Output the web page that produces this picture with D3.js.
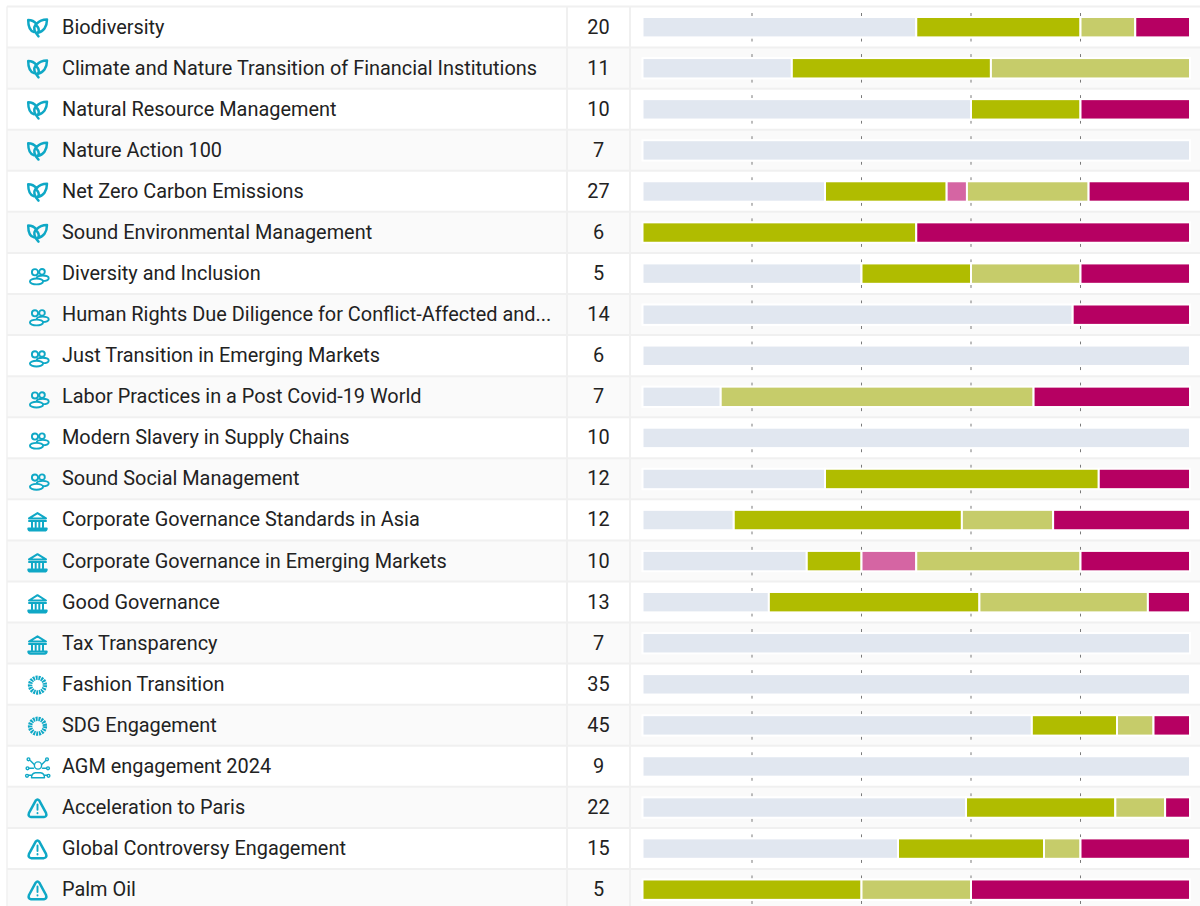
<!DOCTYPE html>
<html><head><meta charset="utf-8">
<script src="https://cdn.jsdelivr.net/npm/d3@7/dist/d3.min.js"></script>
<style>html,body{margin:0;padding:0;background:#fff;overflow:hidden}svg{display:block}text{font-family:Roboto,sans-serif;fill:#222}</style>
</head><body><svg id="c" width="1200" height="906"></svg>
<script>
const themes = ["Biodiversity","Climate and Nature Transition of Financial Institutions","Natural Resource Management","Nature Action 100","Net Zero Carbon Emissions","Sound Environmental Management","Diversity and Inclusion","Human Rights Due Diligence for Conflict-Affected and...","Just Transition in Emerging Markets","Labor Practices in a Post Covid-19 World","Modern Slavery in Supply Chains","Sound Social Management","Corporate Governance Standards in Asia","Corporate Governance in Emerging Markets","Good Governance","Tax Transparency","Fashion Transition","SDG Engagement","AGM engagement 2024","Acceleration to Paris","Global Controversy Engagement","Palm Oil"];
const icons = ["leaf","leaf","leaf","leaf","leaf","leaf","people","people","people","people","people","people","bank","bank","bank","bank","sdg","sdg","agm","alert","alert","alert"];
const counts = [20,11,10,7,27,6,5,14,6,7,10,12,12,10,13,7,35,45,9,22,15,5];
const statusNames = ["grey","green","pink","lightgreen","magenta"];
const grey =       [10,3,6,7,9,0,2,11,6,1,10,4,2,3,3,7,35,32,9,13,7,0];
const green =      [6,4,2,0,6,3,1,0,0,0,0,6,5,1,5,0,0,7,0,6,4,2];
const pink =       [0,0,0,0,1,0,0,0,0,0,0,0,0,1,0,0,0,0,0,0,0,0];
const lightgreen = [2,4,0,0,6,0,1,0,0,4,0,0,2,3,4,0,0,3,0,2,1,1];
const magenta =    [2,0,2,0,5,3,1,3,0,2,0,2,3,2,1,0,0,3,0,1,3,2];
const statusColors = ["#e1e7f0","#b0bc00","#d565a3","#c6cc6a","#b60062"];
const tickValues = [0.2,0.4,0.6,0.8];

const rows = themes.map((t,i)=>({theme:t,icon:icons[i],count:counts[i],grey:grey[i],green:green[i],pink:pink[i],lightgreen:lightgreen[i],magenta:magenta[i]}));
const svg = d3.select("#c");
const rowH = 41.07, startY = 6.5;
const y = d3.scaleBand().domain(themes).range([startY, startY+rowH*themes.length]);
const x = d3.scaleLinear().domain([0,1]).range([642.5,1190]);
const stacked = d3.stack().keys(statusNames).offset(d3.stackOffsetExpand)(rows);
const teal = "#0fa8c6";

const g = svg.selectAll("g.row").data(rows).join("g").attr("class","row").attr("transform",d=>`translate(0,${y(d.theme)})`);
g.append("rect").attr("x",7).attr("width",1200).attr("height",rowH).attr("fill",(d,i)=>i%2?"#fafafa":"#fff");
g.append("line").attr("x1",7).attr("x2",1200).attr("y1",0).attr("y2",0).attr("stroke","#f0f0f0").attr("stroke-width",2);
[7,567,630].forEach(cx=>svg.append("line").attr("x1",cx).attr("x2",cx).attr("y1",startY).attr("y2",906).attr("stroke","#f0f0f0").attr("stroke-width",cx===7?1.5:2));

g.append("text").text(d=>d.theme).attr("x",62).attr("y",rowH/2-0.4).attr("dy","0.35em").attr("font-size",19.9);
g.append("text").text(d=>d.count).attr("x",598.5).attr("y",rowH/2-0.4).attr("dy","0.35em").attr("text-anchor","middle").attr("font-size",19.9);

[7.5,33].forEach(off=>{
  g.selectAll(null).data(tickValues).join("rect").attr("x",t=>x(t)-0.5).attr("y",off-1).attr("width",1).attr("height",3).attr("fill","#7a7a7a");
});

svg.selectAll("g.series").data(stacked).join("g").attr("class","series").attr("fill",(s,i)=>statusColors[i])
 .selectAll("rect").data(s=>s.filter(d=>d[1]>d[0])).join("rect")
 .attr("x",d=>x(d[0])).attr("width",d=>x(d[1])-x(d[0]))
 .attr("y",d=>y(d.data.theme)+10.5).attr("height",20.4)
 .attr("stroke","#fff").attr("stroke-width",2);

const ic = g.append("g").attr("transform",`translate(37.5,${rowH/2})`).attr("fill","none").attr("stroke",teal).attr("stroke-width",2.5).attr("stroke-linecap","round").attr("stroke-linejoin","round");
ic.filter(d=>d.icon==="leaf").each(function(){
  const s=d3.select(this).append("g").attr("transform","translate(0,0.5)");
  s.append("path").attr("d","M-3.5,4.5 C-7.5,3.5 -9.3,-1.5 -9.3,-7.5 C-5.5,-7.5 -3,-6 -1,-3.5 C2,-7 6,-8 9.5,-8 C9.5,-1 6,4.5 0,5");
  s.append("path").attr("d","M1,8.8 C-2.5,5 -5,1 -2,-2.8 C0.5,-1 2,2 0.8,5");
});
ic.filter(d=>d.icon==="people").each(function(){
  const s=d3.select(this).attr("stroke-width",1.9).append("g");
  s.append("circle").attr("cx",-2.5).attr("cy",-1.2).attr("r",3.1);
  s.append("circle").attr("cx",4.5).attr("cy",-1.6).attr("r",2.8);
  s.append("ellipse").attr("cx",5.2).attr("cy",4.8).attr("rx",6).attr("ry",2.7);
  s.append("ellipse").attr("cx",-1).attr("cy",8).attr("rx",6.6).attr("ry",2.9).attr("fill","#fff");
});
ic.filter(d=>d.icon==="bank").each(function(){
  const s=d3.select(this).attr("stroke-width",2).append("g");
  s.append("path").attr("d","M-8.5,-1.5 L0,-6.8 L8.5,-1.5 Z");
  s.append("path").attr("d","M-8.5,1 H8.5 M-9.2,8.5 Q-9.2,10.6 -7,10.6 H7 Q9.2,10.6 9.2,8.5 Z M-5.5,1 V7 M-1.8,1 V7 M1.8,1 V7 M5.5,1 V7");
});
ic.filter(d=>d.icon==="sdg").append("circle").attr("cy",1).attr("r",7.4).attr("stroke-width",4.4).attr("stroke-linecap","butt").attr("stroke-dasharray","1.9 0.84");
ic.filter(d=>d.icon==="agm").each(function(){
  const s=d3.select(this).attr("stroke-width",1.4).append("g");
  s.append("circle").attr("cx",0.5).attr("cy",-0.8).attr("r",3.6);
  s.append("path").attr("d","M-6,11.5 Q-6,7 -2,6.5 H3 Q7,7 7,11.5 Z");
  s.append("path").attr("d","M-7,-5.5 L-3.5,-2 M8,-5.5 L4.5,-2 M-8,2 H-4 M9,2 H5 M-9,9 H-6 M10,9 H7");
  [[-9,-7],[9.5,-7],[-10,2],[10.5,2],[-10.5,9.5],[11,9.5]].forEach(p=>s.append("circle").attr("cx",p[0]).attr("cy",p[1]).attr("r",1.4));
});
ic.filter(d=>d.icon==="alert").each(function(){
  const s=d3.select(this).append("g");
  s.append("path").attr("d","M-1.8,-6.8 Q0,-9 1.8,-6.8 L8.5,5.5 Q9.8,9.2 6.5,9.7 H-6.5 Q-9.8,9.2 -8.5,5.5 Z");
  s.append("path").attr("d","M0,-3 V2.5 M0,5.6 V6").attr("stroke-width",1.9);
});
</script></body></html>
